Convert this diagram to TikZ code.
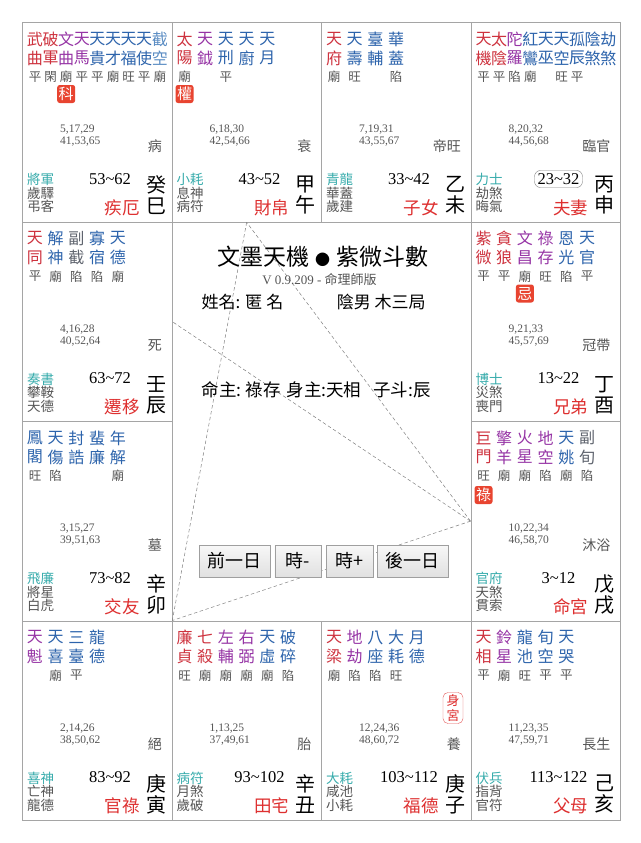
\documentclass[tikz,border=0pt]{standalone}
\usepackage{fontspec}
\setmainfont{Liberation Serif}
\newfontfamily\cjk{Noto Sans CJK TC}
\usetikzlibrary{positioning}

\definecolor{mainred}{RGB}{206, 50, 62}
\definecolor{auxpurple}{RGB}{150, 52, 165}
\definecolor{minorblue}{RGB}{45, 100, 172}
\definecolor{lightblue}{RGB}{90, 140, 195}
\definecolor{fugrey}{RGB}{95, 100, 110}
\definecolor{boshiteal}{RGB}{55, 172, 172}
\definecolor{gongred}{RGB}{222, 48, 48}
\definecolor{badgered}{RGB}{232, 68, 48}
\definecolor{gridgrey}{RGB}{165, 165, 165}
\definecolor{txtgrey}{RGB}{85, 85, 85}

% stars of one palace: name, column pitch, list colour/top/bottom/brightness
\newcommand{\stars}[3]{%
  \foreach \c/\a/\b/\m [count=\i] in {#3} {
    \node[star, text=\c] (#1-a\i) at ({13+(\i-1)*#2}, 17) {\a};
    \node[star, text=\c] (#1-b\i) at ({13+(\i-1)*#2}, 36) {\b};
    \node[bright] (#1-m\i) at ({13+(\i-1)*#2}, 55) {\m};
  }
}
% lower part of one palace
\newcommand{\palace}[9]{%
  \node[nums] (#1-num) at (38, 114) {#2};
  \node[cs] (#1-cs) at (140, 124) {#3};
  \node[boshi] (#1-bo) at (5, 157.5) {#4};
  \node[sui] (#1-sq) at (5, 171) {#5};
  \node[sui] (#1-jq) at (5, 184.5) {#6};
  \node[decade] (#1-rg) at (88, 157) {#7};
  \node[gong] (#1-gn) at (118, 185.5) {#8};
  \node[gz] (#1-gz) at (134, 173.5) {#9};
}

\begin{document}
\begin{tikzpicture}[
  x=1pt, y=-1pt,
  cell/.style={draw=gridgrey, line width=0.8pt, minimum width=149.5pt, minimum height=199.5pt, anchor=north west, inner sep=0pt},
  star/.style={font=\cjk\fontsize{16}{16}\selectfont, inner sep=0pt},
  bright/.style={font=\cjk\fontsize{12.5}{12.5}\selectfont, text=txtgrey, inner sep=0pt},
  hua/.style={font=\cjk\fontsize{15}{15}\selectfont, text=white, fill=badgered, rounded corners=2.5pt, minimum size=18pt, inner sep=0pt},
  nums/.style={font=\fontsize{11.5}{12}\selectfont, text=txtgrey, align=left, anchor=west, inner sep=0pt},
  cs/.style={font=\cjk\fontsize{14}{14}\selectfont, text=txtgrey, anchor=east, inner sep=0pt},
  boshi/.style={font=\cjk\fontsize{13.5}{13.5}\selectfont, text=boshiteal, anchor=west, inner sep=0pt},
  sui/.style={font=\cjk\fontsize{13.5}{13.5}\selectfont, text=txtgrey, anchor=west, inner sep=0pt},
  decade/.style={font=\fontsize{16.5}{16.5}\selectfont, inner sep=1pt},
  curdec/.style={draw=gray, rounded corners=6pt, inner xsep=3pt, inner ysep=3pt},
  gong/.style={font=\cjk\fontsize{17.5}{17.5}\selectfont, text=gongred, anchor=east, inner sep=0pt},
  gz/.style={font=\cjk\fontsize{20}{21}\selectfont, align=center, inner sep=0pt},
  shengong/.style={font=\cjk\fontsize{13}{15}\selectfont, text=gongred, draw=gongred!80, rounded corners=5pt, align=center, minimum width=20pt, minimum height=31pt, inner sep=0pt},
  sanfang/.style={gray, line width=0.5pt, dash pattern=on 3.5pt off 2.5pt},
  btn/.style={font=\cjk\fontsize{18}{18}\selectfont, draw=gray!75, top color=gray!6, bottom color=gray!24, minimum height=32pt, minimum width=70.7pt, inner sep=0pt},
  info/.style={font=\cjk\fontsize{17}{17}\selectfont, anchor=west, inner sep=0pt}
]
  \useasboundingbox (0,0) rectangle (640,843);
  \fill[white] (0,0) rectangle (640,843);

  % --- the twelve palaces ---
  \node[cell] (si) at (22, 22) {};
  \node[cell] (wu) at (171.5, 22) {};
  \node[cell] (wei) at (321, 22) {};
  \node[cell] (shen) at (470.5, 22) {};
  \node[cell] (chen) at (22, 221.5) {};
  \node[cell] (you) at (470.5, 221.5) {};
  \node[cell] (mao) at (22, 421) {};
  \node[cell] (xu) at (470.5, 421) {};
  \node[cell] (yin) at (22, 620.5) {};
  \node[cell] (chou) at (171.5, 620.5) {};
  \node[cell] (zi) at (321, 620.5) {};
  \node[cell] (hai) at (470.5, 620.5) {};

  % --- si ---
  \begin{scope}[shift={(si.north west)}]
    \stars{si}{15.6}{mainred/武/曲/平, mainred/破/軍/閑, auxpurple/文/曲/廟, auxpurple/天/馬/平, minorblue/天/貴/平, minorblue/天/才/廟, minorblue/天/福/旺, minorblue/天/使/平, lightblue/截/空/廟}
    \node[hua] (si-hua) at (44.2, 72) {科};
    \palace{si}{5,17,29\\41,53,65}{病}{將軍}{歲驛}{弔客}{53\textasciitilde62}{疾厄}{癸\\巳}
  \end{scope}

  % --- wu ---
  \begin{scope}[shift={(wu.north west)}]
    \stars{wu}{20.7}{mainred/太/陽/廟, auxpurple/天/鉞/{}, minorblue/天/刑/平, minorblue/天/廚/{}, minorblue/天/月/{}}
    \node[hua] (wu-hua) at (13, 72) {權};
    \palace{wu}{6,18,30\\42,54,66}{衰}{小耗}{息神}{病符}{43\textasciitilde52}{財帛}{甲\\午}
  \end{scope}

  % --- wei ---
  \begin{scope}[shift={(wei.north west)}]
    \stars{wei}{20.7}{mainred/天/府/廟, minorblue/天/壽/旺, minorblue/臺/輔/{}, minorblue/華/蓋/陷}
    \palace{wei}{7,19,31\\43,55,67}{帝旺}{青龍}{華蓋}{歲建}{33\textasciitilde42}{子女}{乙\\未}
  \end{scope}

  % --- shen ---
  \begin{scope}[shift={(shen.north west)}]
    \stars{shen}{15.6}{mainred/天/機/平, mainred/太/陰/平, auxpurple/陀/羅/陷, minorblue/紅/鸞/廟, minorblue/天/巫/{}, minorblue/天/空/旺, minorblue/孤/辰/平, minorblue/陰/煞/{}, minorblue/劫/煞/{}}
    \palace{shen}{8,20,32\\44,56,68}{臨官}{力士}{劫煞}{晦氣}{23\textasciitilde32}{夫妻}{丙\\申}
    \node[decade, curdec] (shen-box) at (shen-rg) {\phantom{23\textasciitilde32}};
  \end{scope}

  % --- chen ---
  \begin{scope}[shift={(chen.north west)}]
    \stars{chen}{20.7}{mainred/天/同/平, minorblue/解/神/廟, fugrey/副/截/陷, minorblue/寡/宿/陷, minorblue/天/德/廟}
    \palace{chen}{4,16,28\\40,52,64}{死}{奏書}{攀鞍}{天德}{63\textasciitilde72}{遷移}{壬\\辰}
  \end{scope}

  % --- you ---
  \begin{scope}[shift={(you.north west)}]
    \stars{you}{20.7}{mainred/紫/微/平, mainred/貪/狼/平, auxpurple/文/昌/廟, auxpurple/祿/存/旺, minorblue/恩/光/陷, minorblue/天/官/平}
    \node[hua] (you-hua) at (54.4, 72) {忌};
    \palace{you}{9,21,33\\45,57,69}{冠帶}{博士}{災煞}{喪門}{13\textasciitilde22}{兄弟}{丁\\酉}
  \end{scope}

  % --- mao ---
  \begin{scope}[shift={(mao.north west)}]
    \stars{mao}{20.7}{minorblue/鳳/閣/旺, minorblue/天/傷/陷, minorblue/封/誥/{}, minorblue/蜚/廉/{}, minorblue/年/解/廟}
    \palace{mao}{3,15,27\\39,51,63}{墓}{飛廉}{將星}{白虎}{73\textasciitilde82}{交友}{辛\\卯}
  \end{scope}

  % --- xu ---
  \begin{scope}[shift={(xu.north west)}]
    \stars{xu}{20.7}{mainred/巨/門/旺, auxpurple/擎/羊/廟, auxpurple/火/星/廟, auxpurple/地/空/陷, minorblue/天/姚/廟, fugrey/副/旬/陷}
    \node[hua] (xu-hua) at (13, 74) {祿};
    \palace{xu}{10,22,34\\46,58,70}{沐浴}{官府}{天煞}{貫索}{3\textasciitilde12}{命宮}{戊\\戌}
  \end{scope}

  % --- yin ---
  \begin{scope}[shift={(yin.north west)}]
    \stars{yin}{20.7}{auxpurple/天/魁/{}, minorblue/天/喜/廟, minorblue/三/臺/平, minorblue/龍/德/{}}
    \palace{yin}{2,14,26\\38,50,62}{絕}{喜神}{亡神}{龍德}{83\textasciitilde92}{官祿}{庚\\寅}
  \end{scope}

  % --- chou ---
  \begin{scope}[shift={(chou.north west)}]
    \stars{chou}{20.7}{mainred/廉/貞/旺, mainred/七/殺/廟, auxpurple/左/輔/廟, auxpurple/右/弼/廟, minorblue/天/虛/廟, minorblue/破/碎/陷}
    \palace{chou}{1,13,25\\37,49,61}{胎}{病符}{月煞}{歲破}{93\textasciitilde102}{田宅}{辛\\丑}
  \end{scope}

  % --- zi ---
  \begin{scope}[shift={(zi.north west)}]
    \stars{zi}{20.7}{mainred/天/梁/廟, auxpurple/地/劫/陷, minorblue/八/座/陷, minorblue/大/耗/旺, minorblue/月/德/{}}
    \node[shengong] (zi-shen) at (132, 87.5) {身\\宮};
    \palace{zi}{12,24,36\\48,60,72}{養}{大耗}{咸池}{小耗}{103\textasciitilde112}{福德}{庚\\子}
  \end{scope}

  % --- hai ---
  \begin{scope}[shift={(hai.north west)}]
    \stars{hai}{20.7}{mainred/天/相/平, auxpurple/鈴/星/廟, minorblue/龍/池/旺, minorblue/旬/空/平, minorblue/天/哭/平}
    \palace{hai}{11,23,35\\47,59,71}{長生}{伏兵}{指背}{官符}{113\textasciitilde122}{父母}{己\\亥}
  \end{scope}

  % --- san fang si zheng ---
  \coordinate (pming) at (xu.west);
  \coordinate (pqian) at (chen.east);
  \coordinate (pcai) at (wu.south);
  \coordinate (pguan) at (yin.north east);
  \draw[sanfang] (pming) -- (pqian);
  \draw[sanfang] (pming) -- (pcai);
  \draw[sanfang] (pming) -- (pguan);
  \draw[sanfang] (pcai) -- (pguan);

  % --- centre ---
  \node[font=\cjk\fontsize{23}{23}\selectfont, inner sep=0pt] (title) at (322.5, 256.7) {文墨天機\hspace{6pt}{\fontsize{15}{15}\selectfont ●}\hspace{6pt}紫微斗數};
  \node[font=\fontsize{13}{13}\selectfont, text=txtgrey, inner sep=0pt] (ver) at (319.5, 279.7) {V 0.9.209 - {\cjk 命理師版}};
  \node[info] (name) at (201.5, 301.7) {姓名: 匿 名};
  \node[info] (sex) at (336.7, 301.7) {陰男 木三局};
  \node[info, font=\cjk\fontsize{17.5}{17.5}\selectfont] (zhu) at (201.5, 390) {命主:\hspace{4pt}祿存\hspace{6pt}身主:天相\hspace{12pt}子斗:辰};

  \node[btn] (prevday) at (234.7, 561) {前一日};
  \node[btn, minimum width=46.7pt, right=4.3pt of prevday] (hourdown) {時-};
  \node[btn, minimum width=46.7pt, right=4.3pt of hourdown] (hourup) {時+};
  \node[btn, right=4.3pt of hourup] (nextday) {後一日};
\end{tikzpicture}
\end{document}
